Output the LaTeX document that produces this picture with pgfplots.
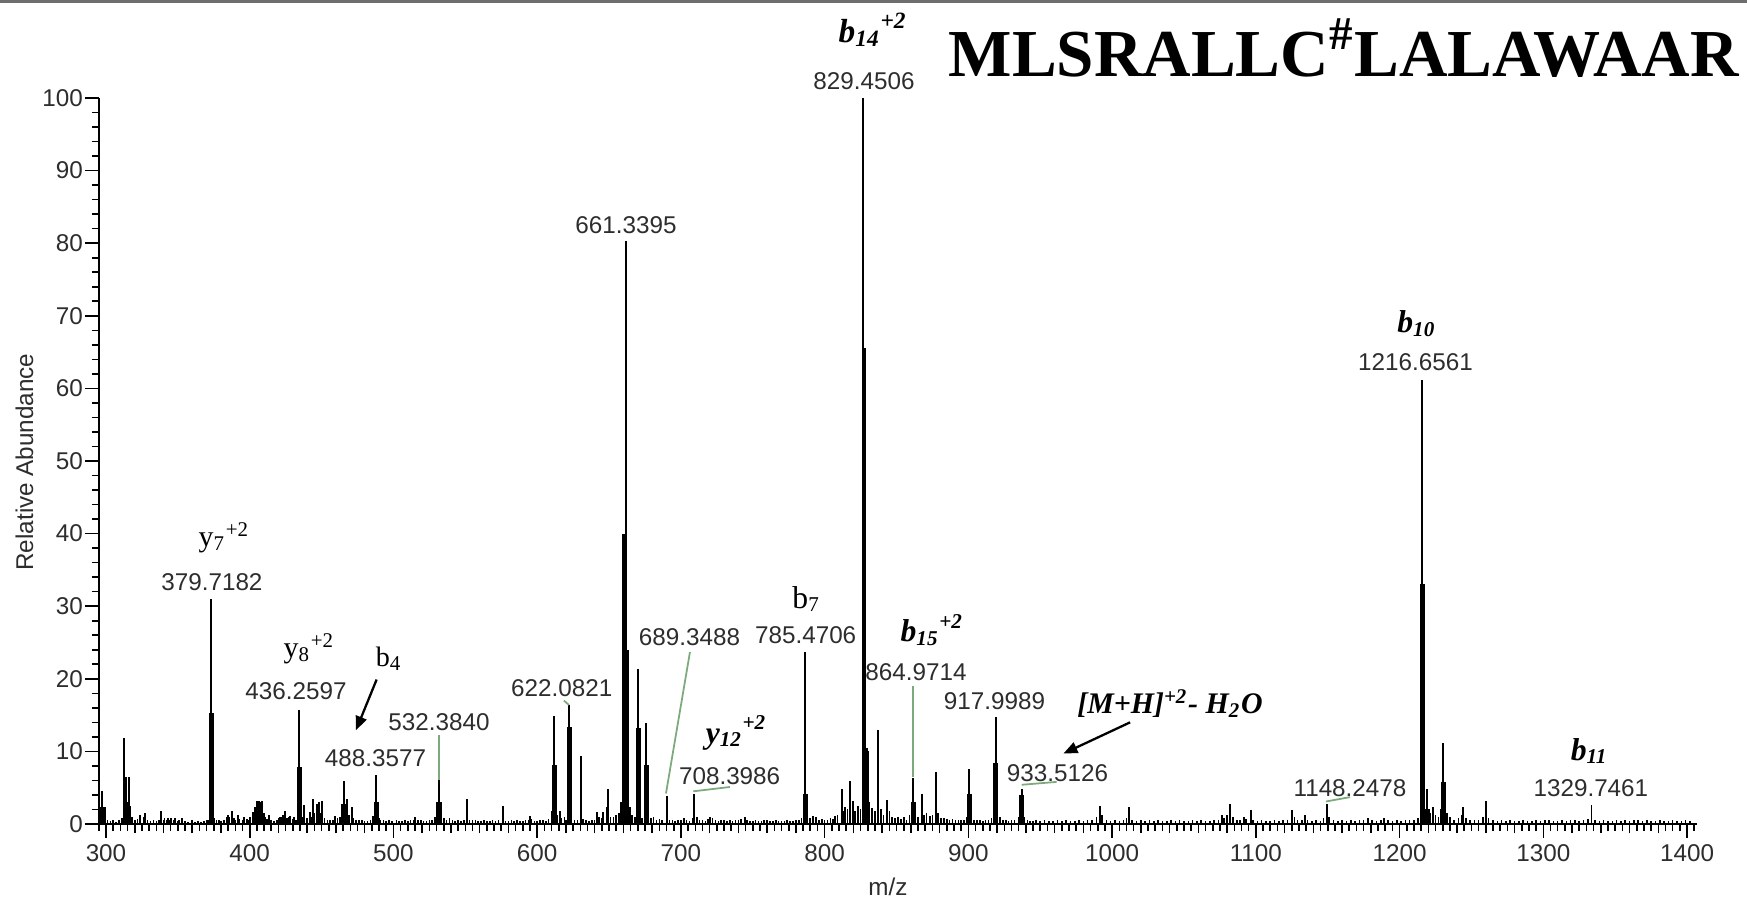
\documentclass[border=0pt]{standalone}
\usepackage{fontspec}
\setmainfont{Liberation Serif}
\newfontfamily\arial{Liberation Sans}
\usepackage{pgfplots}
\pgfplotsset{compat=1.18}
\usetikzlibrary{arrows.meta}
\definecolor{lead}{RGB}{125,170,125}
\definecolor{txt}{RGB}{45,45,45}
\newcommand{\num}{\arial\fontsize{6.9}{8}\selectfont}
\begin{document}
\begin{tikzpicture}
\useasboundingbox (-0.988cm,-0.74cm) rectangle (16.482cm,8.24cm);
\fill[white] (-0.988cm,-0.74cm) rectangle (16.482cm,8.24cm);
\begin{axis}[
  scale only axis, width=15.983cm, height=7.26cm,
  xmin=295, xmax=1407, ymin=0, ymax=100,
  clip=false,
  axis x line*=bottom, axis y line*=left,
  axis line style={-, line width=0.65pt, black},
  tick align=outside,
  tick style={black, line width=0.45pt},
  xtick={300,400,...,1400},
  minor xtick={295,300,...,1405},
  extra x ticks={320,340,360,380,420,440,460,480,520,540,560,580,620,640,660,680,720,740,760,780,820,840,860,880,920,940,960,980,1020,1040,1060,1080,1120,1140,1160,1180,1220,1240,1260,1280,1320,1340,1360,1380},
  extra x tick labels={},
  extra x tick style={major tick length=0.09cm},
  ytick={0,10,...,100},
  minor ytick={2,4,...,98},
  major tick length=0.135cm, minor tick length=0.07cm,
  /pgf/number format/assume math mode=true,
  /pgf/number format/1000 sep={},
  tick label style={font=\num, text=txt},
  yticklabel style={xshift=0.1cm},
  xticklabel style={yshift=0.05cm},
]
% baseline noise
\addplot[ycomb, black, line width=0.45pt, no markers] coordinates {
(301,0.6)(303,0.4)(305,0.5)(307,0.3)(309,0.5)(311,0.8)(318,0.9)(320,0.5)(322,0.7)(326,0.9)(329,0.6)(331,0.4)(333,0.5)(335,0.4)(337,0.5)
(340,0.5)(342,0.6)(344,0.5)(347,0.5)(350,0.4)(351,0.6)(355,0.4)(357,0.3)(360,0.5)(362,0.3)(364,0.4)(366,0.3)(368,0.4)(370,0.5)(371,0.6)
(375,0.8)(377,0.5)(380,0.4)(382,0.6)(384,0.9)(386,1.0)(389,0.8)(390,0.6)(393,0.7)(395,0.5)(396,1.0)(399,0.6)(400,0.9)(410,1.5)(411,0.9)
(412,0.7)(415,0.5)(417,0.4)(419,0.6)(420,0.8)(422,1.0)(426,0.8)(427,1.0)(430,0.7)(431,0.9)(432,0.6)(436,0.9)(437,1.0)(440,0.8)(443,1.0)
(445,1.5)(447,1.2)(449,1.5)(452,0.8)(454,0.6)(456,0.5)(458,0.6)(461,0.8)(463,1.0)(466,2.5)(469,1.2)(472,0.8)(474,0.6)(476,0.5)(478,0.5)
(480,0.4)(482,0.4)(484,0.6)(490,0.8)(491,0.5)(493,0.6)(495,0.4)(497,0.5)(499,0.4)(502,0.5)(504,0.4)(506,0.4)(508,0.5)(510,0.4)(512,0.5)
(514,0.5)(517,0.5)(519,0.6)(521,0.4)(523,0.4)(525,0.5)(527,0.6)(529,1.0)(533,1.2)(535,0.8)(537,0.6)(539,0.8)(541,0.5)(543,0.4)(545,0.5)
(547,0.4)(549,0.6)(553,0.6)(555,0.5)(557,0.5)(559,0.4)(561,0.4)(563,0.5)(565,0.4)(567,0.4)(569,0.5)(571,0.4)(573,0.5)(578,0.4)(580,0.4)
(582,0.5)(584,0.4)(586,0.5)(588,0.4)(590,0.4)(592,0.5)(594,0.6)(596,0.7)(598,0.4)(600,0.4)(602,0.5)(604,0.6)(606,0.4)(608,0.7)(610,1.8)
(613,3.0)(614,1.2)(617,0.8)(619,1.0)(620,0.6)(624,0.9)(626,0.5)(628,0.6)(632,0.7)(634,0.5)(636,0.4)(638,0.5)(640,0.6)(643,1.0)(645,0.8)
(651,1.0)(653,0.9)(655,1.2)(657,1.5)(659,2.2)(665,1.5)(666,1.2)(668,0.9)(672,1.0)(673,0.8)(677,1.3)(679,0.8)(681,0.9)(683,0.5)(685,0.7)
(687,0.5)(692,0.6)(694,0.5)(696,0.4)(698,0.5)(700,0.6)(702,0.8)(704,0.5)(706,0.4)(708,0.8)(711,1.0)(713,0.5)(715,0.6)(717,0.4)(719,0.7)
(722,0.8)(724,0.5)(726,0.4)(728,0.5)(730,0.6)(732,0.4)(734,0.5)(736,0.4)(738,0.6)(740,0.5)(742,0.7)(746,0.6)(748,0.4)(750,0.4)(752,0.5)
(754,0.4)(756,0.4)(758,0.5)(760,0.6)(762,0.4)(764,0.4)(766,0.5)(768,0.4)(770,0.4)(772,0.4)(774,0.5)(776,0.4)(778,0.4)(780,0.6)(782,0.5)
(784,0.8)(788,1.0)(790,0.8)(794,0.9)(796,0.6)(798,0.7)(800,0.5)(802,0.6)(804,0.8)(806,0.7)(809,1.2)(813,1.8)(816,2.0)(818,1.5)(821,1.8)
(825,2.0)(831,3.0)(833,2.2)(835,1.8)(839,2.0)(841,1.2)(845,1.8)(847,1.0)(849,0.8)(851,0.9)(853,0.7)(855,0.9)(857,0.6)(859,1.2)(863,1.5)
(865,1.0)(869,1.2)(871,1.5)(875,1.2)(879,1.5)(881,0.8)(883,0.8)(885,0.7)(887,0.6)(889,0.7)(891,0.5)(893,0.6)(895,0.5)(897,0.6)(899,1.0)
(902,1.2)(904,0.6)(906,0.5)(908,0.6)(910,0.4)(912,0.5)(914,0.6)(916,0.8)(920,1.2)(922,0.9)(924,0.6)(926,0.5)(928,0.4)(930,0.5)(932,0.6)
(935,1.0)(939,1.0)(941,0.5)(943,0.4)(945,0.4)(947,0.5)(950,0.4)(953,0.5)(956,0.4)(959,0.4)(962,0.5)(965,0.4)(968,0.5)(971,0.4)(974,0.4)
(977,0.5)(980,0.4)(983,0.5)(986,0.5)(989,0.9)(993,1.2)(996,0.5)(999,0.4)(1002,0.5)(1005,0.4)(1008,0.5)(1010,0.8)(1014,0.6)(1017,0.4)
(1020,0.5)(1023,0.4)(1026,0.5)(1029,0.4)(1032,0.5)(1035,0.4)(1038,0.4)(1041,0.5)(1044,0.4)(1047,0.5)(1050,0.4)(1053,0.4)(1056,0.5)
(1059,0.4)(1062,0.5)(1065,0.4)(1068,0.4)(1071,0.5)(1074,0.6)(1078,0.8)(1080,1.2)(1084,0.9)(1087,0.5)(1089,0.6)(1093,0.7)(1098,0.6)
(1101,0.4)(1104,0.5)(1107,0.4)(1110,0.4)(1113,0.5)(1116,0.4)(1119,0.5)(1122,0.6)(1127,0.9)(1129,0.6)(1132,0.5)(1136,0.5)(1139,0.4)
(1142,0.5)(1145,0.4)(1147,0.8)(1151,0.9)(1154,0.5)(1157,0.4)(1160,0.5)(1163,0.4)(1166,0.5)(1169,0.4)(1172,0.5)(1175,0.5)(1178,0.8)
(1181,0.5)(1184,0.4)(1187,0.6)(1189,0.8)(1192,0.5)(1195,0.4)(1198,0.5)(1201,0.4)(1204,0.6)(1207,0.5)(1210,0.6)(1213,0.8)(1221,1.5)
(1225,1.2)(1227,0.9)(1229,2.0)(1233,1.5)(1235,0.9)(1238,0.6)(1241,0.8)(1243,1.2)(1246,0.8)(1249,0.5)(1252,0.6)(1255,0.5)(1258,1.0)
(1262,0.8)(1265,0.5)(1268,0.4)(1271,0.5)(1274,0.4)(1277,0.5)(1280,0.4)(1283,0.4)(1286,0.5)(1289,0.4)(1292,0.4)(1295,0.5)(1298,0.4)
(1301,0.5)(1304,0.5)(1307,0.4)(1310,0.4)(1313,0.5)(1316,0.4)(1319,0.6)(1322,0.5)(1325,0.4)(1328,0.6)(1331,0.7)(1336,0.5)(1339,0.4)
(1342,0.5)(1345,0.4)(1348,0.4)(1351,0.5)(1354,0.4)(1357,0.5)(1360,0.4)(1363,0.6)(1366,0.5)(1369,0.4)(1372,0.5)(1375,0.4)(1378,0.4)
(1381,0.5)(1384,0.4)(1387,0.4)(1390,0.5)(1393,0.4)(1396,0.4)(1399,0.5)(1402,0.4)
};
% thin peaks
\addplot[ycomb, black, line width=0.55pt, no markers] coordinates {
(295.8,2.1)(297.4,4.5)(299.5,2.3)(312.7,11.9)(313.7,6.5)(315.0,3.0)(316.0,6.5)(316.7,2.3)(323.7,1.3)(327.4,1.5)(338.3,1.8)
(340.7,0.8)(343.4,0.8)(345.4,0.8)(348.2,0.8)(352.9,0.8)(373.3,31.0)(378.9,0.6)(385.1,1.3)(387.4,1.8)(392.0,1.3)(397.9,0.7)
(402.1,1.6)(403.8,2.3)(404.8,3.2)(406.4,3.2)(408.3,3.2)(413.4,1.3)(421.1,0.9)(423.4,1.3)(424.5,1.8)(428.0,1.1)(434.4,15.7)
(438.0,2.6)(441.9,1.6)(444.2,3.4)(446.6,2.8)(448.2,3.0)(450.1,3.2)(459.3,1.1)(464.4,2.8)(465.8,5.9)(467.4,3.4)(470.9,2.3)
(486.0,1.1)(488.0,6.8)(515.0,0.9)(530.0,3.0)(531.9,6.0)(551.2,3.4)(576.0,2.5)(595.0,1.1)(611.5,14.9)(615.9,1.8)(622.3,16.4)
(630.8,9.3)(641.4,1.6)(646.0,1.6)(648.4,2.3)(649.5,4.8)(658.1,3.0)(661.6,80.3)(664.6,2.3)(670.4,21.4)(675.6,13.9)(690.0,3.9)
(709.3,4.2)(720.2,0.9)(744.6,0.9)(786.5,23.7)(792.1,1.1)(807.2,1.1)(811.8,4.8)(814.1,2.3)(817.6,5.9)(819.9,3.2)(823.4,2.5)
(827.0,100)(829.3,10.5)(837.3,13.0)(843.6,3.3)(861.5,6.3)(867.5,4.2)(873.3,1.1)(877.4,7.2)(900.5,7.6)(918.9,14.8)(937.2,4.8)
(991.4,2.5)(1011.7,2.4)(1076.2,1.2)(1082.0,2.8)(1091.5,0.9)(1096.5,1.9)(1125.2,1.9)(1134.5,1.2)(1149.3,2.8)(1215.7,61.2)
(1219.3,4.8)(1223.3,2.4)(1230.3,11.1)(1244.2,2.4)(1260.1,3.2)(1333.5,2.6)
};
% thick parts of peak clusters
\addplot[ycomb, black, line width=1.4pt, no markers] coordinates {
(297.0,2.3)(313.6,3.0)(315.6,2.5)(373.3,15.3)(404.6,2.3)(407.0,3.0)(434.4,7.8)(466.0,2.8)(488.0,3.0)(531.9,3.0)
(611.8,8.1)(622.5,13.4)(660.8,40.0)(662.4,24.0)(670.6,13.2)(676.0,8.1)(786.5,4.2)(827.4,65.6)(828.8,10.0)(861.5,3.0)
(900.5,4.1)(918.9,8.4)(937.2,4.0)(1216.0,33.1)(1230.3,5.8)(1219.3,2.0)
};
% leader lines
\draw[lead, line width=0.5pt] (axis cs:706.3,23.7) -- (axis cs:689.6,4.2);
\draw[lead, line width=0.5pt] (axis cs:708.6,4.5) -- (axis cs:734.1,5.1);
\draw[lead, line width=0.5pt] (axis cs:861.7,19.0) -- (axis cs:861.7,6.5);
\draw[lead, line width=0.5pt] (axis cs:937.1,5.4) -- (axis cs:961.4,5.8);
\draw[lead, line width=0.5pt] (axis cs:1148.8,3.1) -- (axis cs:1165.5,3.7);
\draw[lead, line width=0.5pt] (axis cs:531.9,12.2) -- (axis cs:531.9,6.0);
\draw[lead, line width=0.5pt] (axis cs:618.6,17.0) -- (axis cs:622.1,16.4);
% m/z labels
\begin{scope}[every node/.style={font=\num, text=txt, anchor=base, inner sep=0pt}]
\node at (axis cs:827.4,101.2) {829.4506};
\node at (axis cs:661.8,81.4) {661.3395};
\node at (axis cs:1211.1,62.5) {1216.6561};
\node at (axis cs:373.7,32.2) {379.7182};
\node at (axis cs:786.8,24.9) {785.4706};
\node at (axis cs:706.0,24.6) {689.3488};
\node at (axis cs:863.6,19.8) {864.9714};
\node at (axis cs:617.1,17.5) {622.0821};
\node at (axis cs:432.2,17.1) {436.2597};
\node at (axis cs:918.2,15.8) {917.9989};
\node at (axis cs:531.7,12.85) {532.3840};
\node at (axis cs:487.5,7.9) {488.3577};
\node at (axis cs:962.0,5.8) {933.5126};
\node at (axis cs:733.9,5.4) {708.3986};
\node at (axis cs:1165.5,3.8) {1148.2478};
\node at (axis cs:1333.1,3.8) {1329.7461};
\end{scope}
% ion annotations
\begin{scope}[every node/.style={anchor=base west, inner sep=0pt, text=black}]
\node[font=\fontsize{8.5}{10}\selectfont] at (axis cs:364.0,38.2) {y\textsubscript{7}\textsuperscript{+2}};
\node[font=\fontsize{8.5}{10}\selectfont] at (axis cs:423.1,22.9) {y\textsubscript{8}\textsuperscript{+2}};
\node[font=\fontsize{8}{10}\selectfont] at (axis cs:487.2,21.7) {b\textsubscript{4}};
\node[font=\fontsize{9}{10}\selectfont] at (axis cs:777.1,29.7) {b\textsubscript{7}};
\node[font=\fontsize{9.5}{11}\selectfont\bfseries\itshape] at (axis cs:809.3,107.7) {b\textsubscript{14}\textsuperscript{+2}};
\node[font=\fontsize{9}{11}\selectfont\bfseries\itshape] at (axis cs:1198.0,67.7) {b\textsubscript{10}};
\node[font=\fontsize{9}{11}\selectfont\bfseries\itshape] at (axis cs:852.4,25.1) {b\textsubscript{15}\textsuperscript{+2}};
\node[font=\fontsize{9}{11}\selectfont\bfseries\itshape] at (axis cs:716.8,11.1) {y\textsubscript{12}\textsuperscript{+2}};
\node[font=\fontsize{8.5}{11}\selectfont\bfseries\itshape] at (axis cs:975.3,15.2) {[M+H]\textsuperscript{+2}- H\textsubscript{2}O};
\node[font=\fontsize{9}{11}\selectfont\bfseries\itshape] at (axis cs:1318.6,8.8) {b\textsubscript{11}};
\node[font=\fontsize{19.1}{20}\selectfont\bfseries] at (axis cs:885.8,103.0) {MLSRALLC\textsuperscript{\#}LALAWAAR};
\end{scope}
\draw[black, line width=0.65pt, -{Triangle[length=4pt, width=3.2pt]}] (axis cs:488.3,19.9) -- (axis cs:473.9,12.9);
\draw[black, line width=0.65pt, -{Triangle[length=4pt, width=3.2pt]}] (axis cs:1012.5,14.0) -- (axis cs:966.1,9.7);
\end{axis}
\node[rotate=90, font=\num, text=txt] at (-0.743cm,3.62cm) {Relative Abundance};
\node[font=\num, text=txt] at (7.892cm,-0.63cm) {m/z};
\draw[color={rgb,255:red,110;green,110;blue,110}, line width=0.8pt] (-0.988cm,8.225cm) -- (16.482cm,8.225cm);
\end{tikzpicture}
\end{document}
